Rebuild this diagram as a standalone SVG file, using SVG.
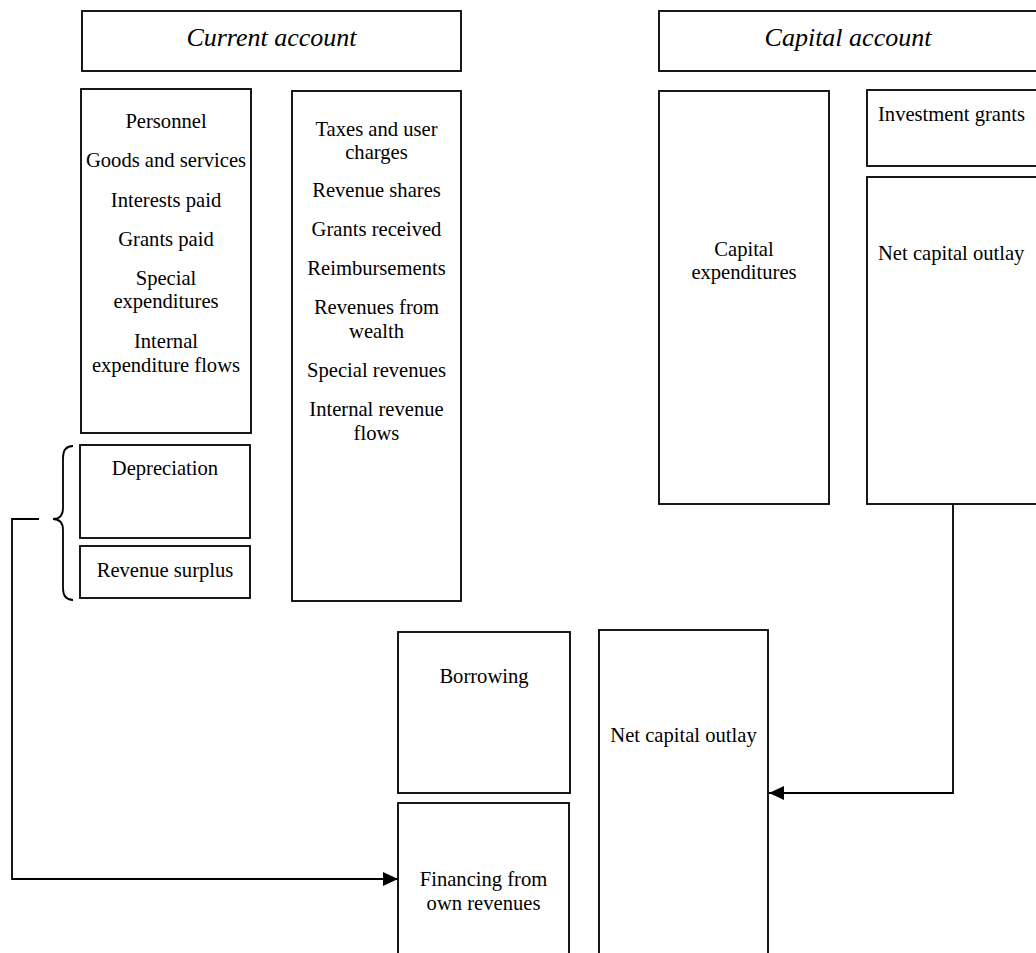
<svg xmlns="http://www.w3.org/2000/svg" width="1036" height="953" viewBox="0 0 1036 953">
<style>
.box{fill:#fff;stroke:#000;stroke-width:1.8}
.t{font-family:"Liberation Serif","Times New Roman",serif;font-size:20.6px;fill:#000}
.c{text-anchor:middle}
.title{font-family:"Liberation Serif","Times New Roman",serif;font-size:26px;font-style:italic;fill:#000;text-anchor:middle}
.conn{fill:none;stroke:#000;stroke-width:1.8}
</style>
<defs>
<marker id="arr" markerUnits="userSpaceOnUse" markerWidth="16" markerHeight="16" viewBox="0 0 16 16" refX="15" refY="8" orient="auto">
<path d="M0,1 L15,8 L0,15 Z" fill="#000"/>
</marker>
</defs>
<rect width="1036" height="953" fill="#fff"/>
<g id="current-account">
<rect class="box" x="82" y="11" width="379" height="60"/>
<text class="title" x="271.5" y="46">Current account</text>
</g>
<g id="capital-account">
<rect class="box" x="659" y="11" width="378" height="60"/>
<text class="title" x="848" y="46">Capital account</text>
</g>
<g id="expenditures">
<rect class="box" x="81" y="89" width="170" height="344"/>
<text class="t c" x="166" y="128">Personnel</text>
<text class="t c" x="166" y="167">Goods and services</text>
<text class="t c" x="166" y="207">Interests paid</text>
<text class="t c" x="166" y="246">Grants paid</text>
<text class="t c" x="166" y="285">Special</text>
<text class="t c" x="166" y="308">expenditures</text>
<text class="t c" x="166" y="348">Internal</text>
<text class="t c" x="166" y="372">expenditure flows</text>
</g>
<g id="revenues">
<rect class="box" x="292" y="91" width="169" height="510"/>
<text class="t c" x="376.5" y="136">Taxes and user</text>
<text class="t c" x="376.5" y="159">charges</text>
<text class="t c" x="376.5" y="197">Revenue shares</text>
<text class="t c" x="376.5" y="236">Grants received</text>
<text class="t c" x="376.5" y="275">Reimbursements</text>
<text class="t c" x="376.5" y="314">Revenues from</text>
<text class="t c" x="376.5" y="338">wealth</text>
<text class="t c" x="376.5" y="377">Special revenues</text>
<text class="t c" x="376.5" y="416">Internal revenue</text>
<text class="t c" x="376.5" y="440">flows</text>
</g>
<g id="depreciation">
<rect class="box" x="80" y="445" width="170" height="93"/>
<text class="t c" x="165" y="475">Depreciation</text>
</g>
<g id="revenue-surplus">
<rect class="box" x="80" y="546" width="170" height="52"/>
<text class="t c" x="165" y="577">Revenue surplus</text>
</g>
<g id="brace">
<path class="conn" d="M73,446 Q63,446 63,458 L63,508 Q63,519 53,519 Q63,519 63,530 L63,588 Q63,600 73,600"/>
</g>
<g id="capital-expenditures">
<rect class="box" x="659" y="91" width="170" height="413"/>
<text class="t c" x="744" y="256">Capital</text>
<text class="t c" x="744" y="279">expenditures</text>
</g>
<g id="investment-grants">
<rect class="box" x="867" y="90" width="180" height="76"/>
<text class="t" x="878" y="121">Investment grants</text>
</g>
<g id="net-capital-outlay-top">
<rect class="box" x="867" y="177" width="180" height="327"/>
<text class="t" x="878" y="260">Net capital outlay</text>
</g>
<g id="borrowing">
<rect class="box" x="398" y="632" width="172" height="161"/>
<text class="t c" x="484" y="683">Borrowing</text>
</g>
<g id="financing">
<rect class="box" x="398" y="803" width="171" height="170"/>
<text class="t c" x="483.5" y="886">Financing from</text>
<text class="t c" x="483.5" y="910">own revenues</text>
</g>
<g id="net-capital-outlay-bottom">
<rect class="box" x="599" y="630" width="169" height="343"/>
<text class="t c" x="683.5" y="742">Net capital outlay</text>
</g>
<g id="connectors">
<polyline class="conn" points="39,519 12,519 12,879 398,879" marker-end="url(#arr)"/>
<polyline class="conn" points="953,504 953,793 769,793" marker-end="url(#arr)"/>
</g>
</svg>
